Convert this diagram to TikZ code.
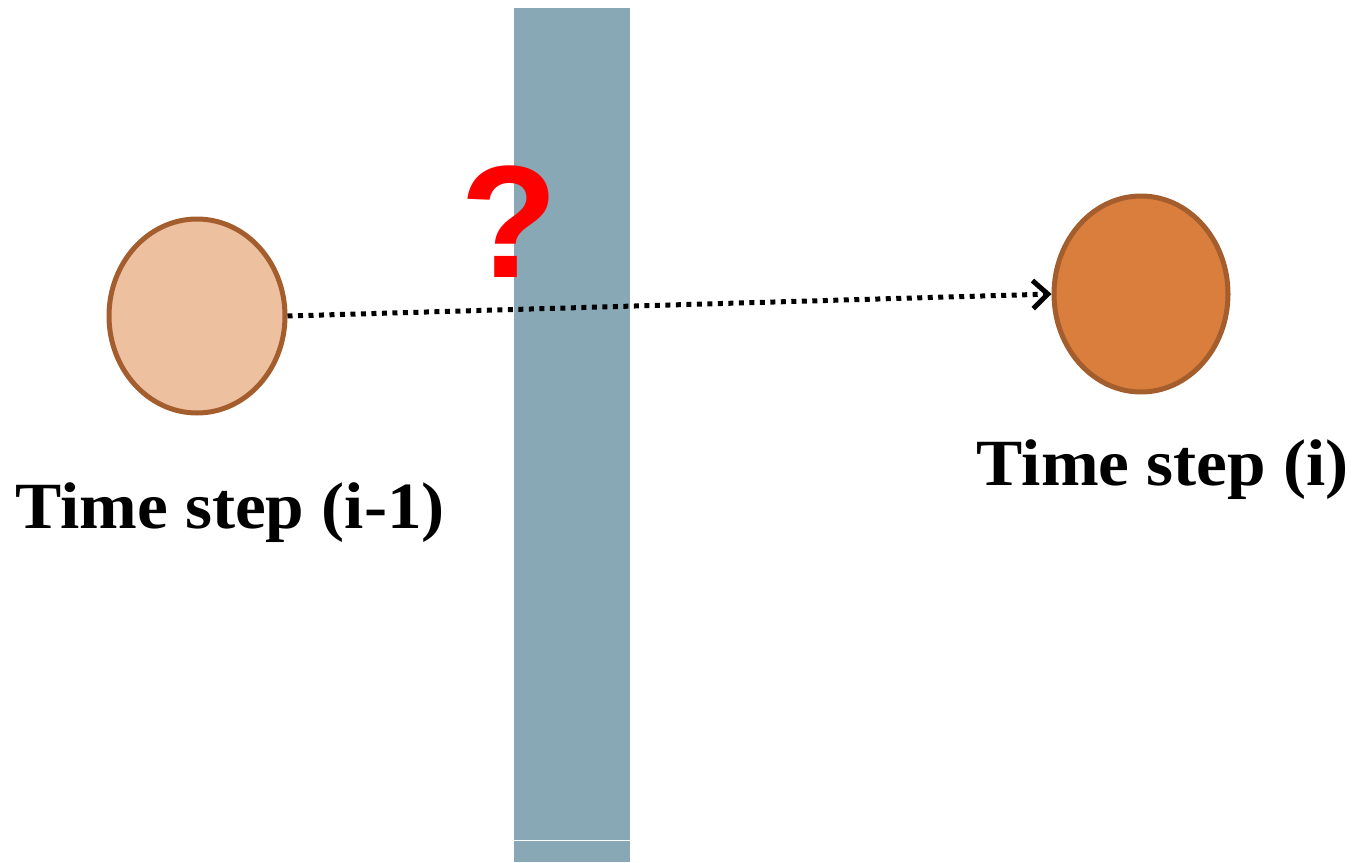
\documentclass[tikz,border=0pt]{standalone}
\usepackage{fontspec}
\setmainfont{Liberation Serif}
\newfontfamily\qfont{Liberation Sans}
\usetikzlibrary{shapes.geometric,arrows.meta}
\definecolor{barcol}{HTML}{87A8B4}
\definecolor{lightfill}{HTML}{EDC19F}
\definecolor{darkfill}{HTML}{D97E3C}
\definecolor{rimcol}{HTML}{A45D2C}
\tikzset{
  stateball/.style={ellipse, draw=rimcol, line width=5pt, inner sep=0pt},
  steplabel/.style={anchor=base, inner sep=0pt, font=\fontsize{66}{70}\selectfont\bfseries},
}
\begin{document}
\begin{tikzpicture}[x=1pt,y=-1pt]
\useasboundingbox (0,0) rectangle (1354,862);
% bar
\fill[barcol] (514,8) rectangle (630,839.5);
\fill[barcol] (514,841) rectangle (630,862);
% circles
\node[stateball, fill=lightfill, minimum width=176pt, minimum height=194pt] (prev) at (197,316) {};
\node[stateball, fill=darkfill, minimum width=174pt, minimum height=196pt] (cur) at (1141,294) {};
% dotted arrow
\draw[line width=5pt, dash pattern=on 5pt off 5.5pt, -{Straight Barb[length=15pt,width=28pt,line width=5pt]}]
  (prev.east) -- (cur.west);
% question mark
\node[inner sep=0pt, text=red, font=\qfont\fontsize{160}{160}\selectfont\bfseries] (q) at (509,222) {?};
% labels
\node[steplabel] (lprev) at (230,528) {\addfontfeatures{FakeStretch=1.05}Time step (i-1)};
\node[steplabel] (lcur) at (1163,485) {\addfontfeatures{FakeStretch=1.05}Time step (i)};
\end{tikzpicture}
\end{document}
